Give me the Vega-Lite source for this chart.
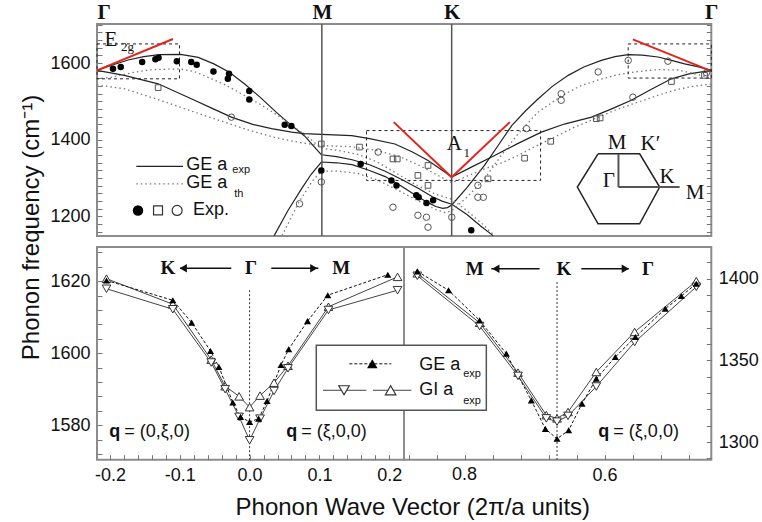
{
"$schema": "https://vega.github.io/schema/vega-lite/v6.json",
"padding": {"left": 18, "top": 0, "right": 4, "bottom": 2},
"background": "white",
"bounds": "flush",
"spacing": 11,
"config": {
  "view": {"stroke": "#8c8c8c", "strokeWidth": 2},
  "axis": {"labelFont": "Liberation Sans", "labelFontSize": 18, "labelColor": "#111", "tickColor": "#777", "tickWidth": 1, "domain": false, "grid": false, "labelOverlap": false, "titleFont": "Liberation Sans", "titleFontSize": 24, "titleFontWeight": "normal", "titleColor": "#111"},
  "text": {"color": "#111"}
},
"datasets": {
  "tc": [
    {"b":"A","t":"e","x":0,"y":1581},{"b":"A","t":"e","x":0.04,"y":1595},{"b":"A","t":"e","x":0.08,"y":1608},{"b":"A","t":"e","x":0.12,"y":1617},{"b":"A","t":"e","x":0.16,"y":1622},{"b":"A","t":"e","x":0.215,"y":1623},{"b":"A","t":"e","x":0.26,"y":1615},{"b":"A","t":"e","x":0.3,"y":1598},{"b":"A","t":"e","x":0.34,"y":1576},{"b":"A","t":"e","x":0.38,"y":1545},{"b":"A","t":"e","x":0.42,"y":1510},{"b":"A","t":"e","x":0.46,"y":1472},{"b":"A","t":"e","x":0.5,"y":1437},{"b":"A","t":"e","x":0.533,"y":1410},{"b":"A","t":"e","x":0.555,"y":1385},{"b":"A","t":"e","x":0.576,"y":1361},{"b":"A","t":"e","x":0.615,"y":1356},{"b":"A","t":"e","x":0.655,"y":1348},{"b":"A","t":"e","x":0.7,"y":1335},{"b":"A","t":"e","x":0.74,"y":1318},{"b":"A","t":"e","x":0.785,"y":1295},{"b":"A","t":"e","x":0.827,"y":1272},{"b":"A","t":"e","x":0.86,"y":1252},{"b":"A","t":"e","x":0.886,"y":1240},{"b":"A","t":"e","x":0.911,"y":1232},{"b":"A","t":"e","x":0.95,"y":1205},{"b":"A","t":"e","x":0.985,"y":1175},{"b":"A","t":"e","x":1.017,"y":1150},
    {"b":"B","t":"e","x":0.455,"y":1150},{"b":"B","t":"e","x":0.49,"y":1215},{"b":"B","t":"e","x":0.525,"y":1272},{"b":"B","t":"e","x":0.55,"y":1310},{"b":"B","t":"e","x":0.576,"y":1342},{"b":"B","t":"e","x":0.615,"y":1340},{"b":"B","t":"e","x":0.655,"y":1335},{"b":"B","t":"e","x":0.7,"y":1320},{"b":"B","t":"e","x":0.74,"y":1304},{"b":"B","t":"e","x":0.78,"y":1280},{"b":"B","t":"e","x":0.82,"y":1254},{"b":"B","t":"e","x":0.85,"y":1236},{"b":"B","t":"e","x":0.87,"y":1226},{"b":"B","t":"e","x":0.888,"y":1221},{"b":"B","t":"e","x":0.9,"y":1223},{"b":"B","t":"e","x":0.911,"y":1230},{"b":"B","t":"e","x":0.95,"y":1275},{"b":"B","t":"e","x":0.995,"y":1333},{"b":"B","t":"e","x":1.03,"y":1385},{"b":"B","t":"e","x":1.065,"y":1437},{"b":"B","t":"e","x":1.1,"y":1475},{"b":"B","t":"e","x":1.133,"y":1507},{"b":"B","t":"e","x":1.17,"y":1540},{"b":"B","t":"e","x":1.21,"y":1568},{"b":"B","t":"e","x":1.25,"y":1590},{"b":"B","t":"e","x":1.295,"y":1607},{"b":"B","t":"e","x":1.33,"y":1617},{"b":"B","t":"e","x":1.364,"y":1622},{"b":"B","t":"e","x":1.4,"y":1621},{"b":"B","t":"e","x":1.441,"y":1616},{"b":"B","t":"e","x":1.48,"y":1606},{"b":"B","t":"e","x":1.509,"y":1598},{"b":"B","t":"e","x":1.545,"y":1590},{"b":"B","t":"e","x":1.5774,"y":1581},
    {"b":"C","t":"e","x":0,"y":1581},{"b":"C","t":"e","x":0.07,"y":1568},{"b":"C","t":"e","x":0.157,"y":1546},{"b":"C","t":"e","x":0.242,"y":1507},{"b":"C","t":"e","x":0.3,"y":1480},{"b":"C","t":"e","x":0.345,"y":1459},{"b":"C","t":"e","x":0.4,"y":1440},{"b":"C","t":"e","x":0.448,"y":1429},{"b":"C","t":"e","x":0.5,"y":1420},{"b":"C","t":"e","x":0.533,"y":1416},{"b":"C","t":"e","x":0.576,"y":1414},{"b":"C","t":"e","x":0.654,"y":1411},{"b":"C","t":"e","x":0.7,"y":1403},{"b":"C","t":"e","x":0.765,"y":1389},{"b":"C","t":"e","x":0.81,"y":1368},{"b":"C","t":"e","x":0.85,"y":1346},{"b":"C","t":"e","x":0.88,"y":1325},{"b":"C","t":"e","x":0.911,"y":1303},{"b":"C","t":"e","x":0.96,"y":1328},{"b":"C","t":"e","x":1.021,"y":1359},{"b":"C","t":"e","x":1.08,"y":1390},{"b":"C","t":"e","x":1.141,"y":1420},{"b":"C","t":"e","x":1.2,"y":1441},{"b":"C","t":"e","x":1.27,"y":1459},{"b":"C","t":"e","x":1.32,"y":1480},{"b":"C","t":"e","x":1.372,"y":1503},{"b":"C","t":"e","x":1.42,"y":1530},{"b":"C","t":"e","x":1.475,"y":1559},{"b":"C","t":"e","x":1.52,"y":1572},{"b":"C","t":"e","x":1.5774,"y":1581},
    {"b":"D","t":"t","x":0,"y":1559},{"b":"D","t":"t","x":0.037,"y":1563},{"b":"D","t":"t","x":0.09,"y":1575},{"b":"D","t":"t","x":0.139,"y":1583},{"b":"D","t":"t","x":0.212,"y":1585},{"b":"D","t":"t","x":0.25,"y":1578},{"b":"D","t":"t","x":0.285,"y":1563},{"b":"D","t":"t","x":0.33,"y":1543},{"b":"D","t":"t","x":0.371,"y":1520},{"b":"D","t":"t","x":0.42,"y":1492},{"b":"D","t":"t","x":0.465,"y":1463},{"b":"D","t":"t","x":0.5,"y":1438},{"b":"D","t":"t","x":0.542,"y":1407},{"b":"D","t":"t","x":0.576,"y":1378},{"b":"D","t":"t","x":0.62,"y":1372},{"b":"D","t":"t","x":0.67,"y":1362},{"b":"D","t":"t","x":0.72,"y":1342},{"b":"D","t":"t","x":0.77,"y":1312},{"b":"D","t":"t","x":0.82,"y":1282},{"b":"D","t":"t","x":0.87,"y":1258},{"b":"D","t":"t","x":0.911,"y":1245},{"b":"D","t":"t","x":0.95,"y":1215},{"b":"D","t":"t","x":0.99,"y":1180},{"b":"D","t":"t","x":1.02,"y":1150},
    {"b":"E","t":"t","x":0.475,"y":1150},{"b":"E","t":"t","x":0.52,"y":1240},{"b":"E","t":"t","x":0.555,"y":1295},{"b":"E","t":"t","x":0.576,"y":1318},{"b":"E","t":"t","x":0.62,"y":1318},{"b":"E","t":"t","x":0.67,"y":1312},{"b":"E","t":"t","x":0.72,"y":1295},{"b":"E","t":"t","x":0.77,"y":1270},{"b":"E","t":"t","x":0.82,"y":1243},{"b":"E","t":"t","x":0.87,"y":1218},{"b":"E","t":"t","x":0.895,"y":1210},{"b":"E","t":"t","x":0.911,"y":1215},{"b":"E","t":"t","x":0.95,"y":1250},{"b":"E","t":"t","x":0.995,"y":1298},{"b":"E","t":"t","x":1.04,"y":1362},{"b":"E","t":"t","x":1.081,"y":1415},{"b":"E","t":"t","x":1.13,"y":1470},{"b":"E","t":"t","x":1.192,"y":1514},{"b":"E","t":"t","x":1.24,"y":1540},{"b":"E","t":"t","x":1.287,"y":1556},{"b":"E","t":"t","x":1.33,"y":1568},{"b":"E","t":"t","x":1.381,"y":1577},{"b":"E","t":"t","x":1.44,"y":1583},{"b":"E","t":"t","x":1.492,"y":1582},{"b":"E","t":"t","x":1.535,"y":1572},{"b":"E","t":"t","x":1.5774,"y":1561},
    {"b":"F","t":"t","x":0,"y":1543},{"b":"F","t":"t","x":0.071,"y":1533},{"b":"F","t":"t","x":0.135,"y":1512},{"b":"F","t":"t","x":0.2,"y":1490},{"b":"F","t":"t","x":0.265,"y":1467},{"b":"F","t":"t","x":0.328,"y":1446},{"b":"F","t":"t","x":0.39,"y":1425},{"b":"F","t":"t","x":0.456,"y":1406},{"b":"F","t":"t","x":0.52,"y":1393},{"b":"F","t":"t","x":0.576,"y":1385},{"b":"F","t":"t","x":0.65,"y":1382},{"b":"F","t":"t","x":0.72,"y":1372},{"b":"F","t":"t","x":0.78,"y":1355},{"b":"F","t":"t","x":0.83,"y":1332},{"b":"F","t":"t","x":0.87,"y":1310},{"b":"F","t":"t","x":0.911,"y":1288},{"b":"F","t":"t","x":0.95,"y":1305},{"b":"F","t":"t","x":0.995,"y":1324},{"b":"F","t":"t","x":1.04,"y":1340},{"b":"F","t":"t","x":1.081,"y":1359},{"b":"F","t":"t","x":1.12,"y":1380},{"b":"F","t":"t","x":1.167,"y":1403},{"b":"F","t":"t","x":1.22,"y":1430},{"b":"F","t":"t","x":1.278,"y":1455},{"b":"F","t":"t","x":1.33,"y":1477},{"b":"F","t":"t","x":1.389,"y":1498},{"b":"F","t":"t","x":1.44,"y":1516},{"b":"F","t":"t","x":1.492,"y":1532},{"b":"F","t":"t","x":1.535,"y":1540},{"b":"F","t":"t","x":1.5774,"y":1545}
  ],
  "tp": [
    {"s":"f","x":0.041,"y":1585},{"s":"f","x":0.061,"y":1590},{"s":"f","x":0.116,"y":1603},{"s":"f","x":0.15,"y":1610},{"s":"f","x":0.158,"y":1614},{"s":"f","x":0.205,"y":1605},{"s":"f","x":0.242,"y":1603},{"s":"f","x":0.256,"y":1596},{"s":"f","x":0.299,"y":1578},{"s":"f","x":0.339,"y":1572},{"s":"f","x":0.336,"y":1559},{"s":"f","x":0.391,"y":1527},{"s":"f","x":0.391,"y":1505},{"s":"f","x":0.482,"y":1439},{"s":"f","x":0.499,"y":1436},{"s":"f","x":0.576,"y":1320},{"s":"f","x":0.677,"y":1337},{"s":"f","x":0.756,"y":1294},{"s":"f","x":0.769,"y":1281},{"s":"f","x":0.82,"y":1255},{"s":"f","x":0.826,"y":1250},{"s":"f","x":0.846,"y":1235},{"s":"f","x":0.863,"y":1242},{"s":"f","x":0.961,"y":1164},
    {"s":"sq","x":0.157,"y":1536},{"s":"sq","x":0.576,"y":1389},{"s":"sq","x":0.674,"y":1381},{"s":"sq","x":0.76,"y":1350},{"s":"sq","x":0.771,"y":1350},{"s":"sq","x":0.85,"y":1333},{"s":"sq","x":0.824,"y":1307},{"s":"sq","x":0.85,"y":1281},{"s":"sq","x":1.004,"y":1298},{"s":"sq","x":1.098,"y":1352},{"s":"sq","x":1.165,"y":1396},{"s":"sq","x":1.282,"y":1455},{"s":"sq","x":1.292,"y":1457},{"s":"sq","x":1.475,"y":1552},{"s":"sq","x":1.56,"y":1568},
    {"s":"c","x":0.345,"y":1459},{"s":"c","x":0.52,"y":1233},{"s":"c","x":0.576,"y":1290},{"s":"c","x":0.722,"y":1368},{"s":"c","x":0.76,"y":1224},{"s":"c","x":0.824,"y":1203},{"s":"c","x":0.846,"y":1198},{"s":"c","x":0.85,"y":1172},{"s":"c","x":0.911,"y":1198},{"s":"c","x":0.978,"y":1281},{"s":"c","x":0.978,"y":1250},{"s":"c","x":0.992,"y":1250},{"s":"c","x":1.103,"y":1429},{"s":"c","x":1.192,"y":1520},{"s":"c","x":1.192,"y":1503},{"s":"c","x":1.287,"y":1577},{"s":"c","x":1.364,"y":1607},{"s":"c","x":1.376,"y":1511},{"s":"c","x":1.466,"y":1605},{"s":"c","x":1.565,"y":1575}
  ],
  "hex": [
    {"i":0,"x":1.2866,"y":1363.4},{"i":1,"x":1.3934,"y":1363.4},{"i":2,"x":1.4448,"y":1276.5},{"i":3,"x":1.3934,"y":1180.7},{"i":4,"x":1.2866,"y":1180.7},{"i":5,"x":1.2334,"y":1276.5},{"i":6,"x":1.2866,"y":1363.4}
  ],
  "bl": [
    {"s":"GE","x":-0.205,"y":1620.2},{"s":"GE","x":-0.11,"y":1614.7},{"s":"GE","x":-0.083,"y":1608.5},{"s":"GE","x":-0.056,"y":1600.6},{"s":"GE","x":-0.044,"y":1596.2},{"s":"GE","x":-0.024,"y":1586.3},{"s":"GE","x":-0.013,"y":1582.3},{"s":"GE","x":0,"y":1580.9},{"s":"GE","x":0.013,"y":1581.8},{"s":"GE","x":0.025,"y":1586.7},{"s":"GE","x":0.045,"y":1596.7},{"s":"GE","x":0.056,"y":1601.1},{"s":"GE","x":0.083,"y":1608.9},{"s":"GE","x":0.112,"y":1616.1},{"s":"GE","x":0.198,"y":1621.8},
    {"s":"GIu","x":-0.205,"y":1620.7},{"s":"GIu","x":-0.11,"y":1613.6},{"s":"GIu","x":-0.055,"y":1598.2},{"s":"GIu","x":-0.035,"y":1590.8},{"s":"GIu","x":-0.015,"y":1588},{"s":"GIu","x":0,"y":1585},{"s":"GIu","x":0.015,"y":1588.2},{"s":"GIu","x":0.035,"y":1591.8},{"s":"GIu","x":0.055,"y":1596.5},{"s":"GIu","x":0.113,"y":1612.9},{"s":"GIu","x":0.212,"y":1621.2},
    {"s":"GId","x":-0.205,"y":1617.9},{"s":"GId","x":-0.11,"y":1612.2},{"s":"GId","x":-0.055,"y":1597.4},{"s":"GId","x":-0.035,"y":1590},{"s":"GId","x":-0.015,"y":1582.3},{"s":"GId","x":0,"y":1575.8},{"s":"GId","x":0.015,"y":1581.8},{"s":"GId","x":0.035,"y":1589.5},{"s":"GId","x":0.055,"y":1595.8},{"s":"GId","x":0.113,"y":1612},{"s":"GId","x":0.212,"y":1617.5}
  ],
  "br": [
    {"s":"GE","x":0.8676,"y":1404.5},{"s":"GE","x":0.8229,"y":1392.9},{"s":"GE","x":0.7786,"y":1374.5},{"s":"GE","x":0.7404,"y":1354.1},{"s":"GE","x":0.7047,"y":1325.5},{"s":"GE","x":0.6847,"y":1308.1},{"s":"GE","x":0.668,"y":1302},{"s":"GE","x":0.6514,"y":1307.2},{"s":"GE","x":0.6323,"y":1323.5},{"s":"GE","x":0.6119,"y":1338.8},{"s":"GE","x":0.5847,"y":1352.1},{"s":"GE","x":0.5561,"y":1364.3},{"s":"GE","x":0.5133,"y":1381.6},{"s":"GE","x":0.4904,"y":1389.4},{"s":"GE","x":0.469,"y":1396.9},
    {"s":"GIu","x":0.8676,"y":1403.3},{"s":"GIu","x":0.7786,"y":1373},{"s":"GIu","x":0.7237,"y":1342.5},{"s":"GIu","x":0.6833,"y":1316.5},{"s":"GIu","x":0.668,"y":1314.5},{"s":"GIu","x":0.6523,"y":1318.4},{"s":"GIu","x":0.6119,"y":1342.9},{"s":"GIu","x":0.5571,"y":1367.4},{"s":"GIu","x":0.469,"y":1398.5},
    {"s":"GId","x":0.8676,"y":1401.8},{"s":"GId","x":0.7786,"y":1371},{"s":"GId","x":0.7237,"y":1340.5},{"s":"GId","x":0.6833,"y":1314.5},{"s":"GId","x":0.668,"y":1312.5},{"s":"GId","x":0.6523,"y":1316},{"s":"GId","x":0.6119,"y":1334},{"s":"GId","x":0.5571,"y":1361.2},{"s":"GId","x":0.469,"y":1395}
  ]
},
"vconcat": [
  {
    "width": 614.3,
    "height": 212,
    "resolve": {"axis": {"y": "independent"}},
    "layer": [
      {
        "data": {"name": "tc"},
        "transform": [{"filter": "datum.t === 'e'"}],
        "mark": {"type": "line", "stroke": "#222", "strokeWidth": 1.2},
        "encoding": {
          "x": {"field": "x", "type": "quantitative", "scale": {"domain": [0, 1.5774], "nice": false, "zero": false},
                "axis": {"orient": "top", "values": [0, 0.5774, 0.9107, 1.5774], "labelExpr": "datum.value < 0.3 || datum.value > 1.5 ? 'Γ' : (datum.value < 0.7 ? 'M' : 'K')", "labelAlign": {"condition": {"test": "datum.value < 0.1", "value": "left"}, "value": "center"}, "ticks": false, "domain": false, "labelFont": "Liberation Serif", "labelFontWeight": "bold", "labelFontSize": 21, "labelPadding": 2, "labelOverlap": false, "labelFlush": false, "labelBound": false, "title": null}},
          "y": {"field": "y", "type": "quantitative", "scale": {"domain": [1149, 1702], "nice": false, "zero": false},
                "axis": {"orient": "left", "values": [1160,1180,1200,1220,1240,1260,1280,1300,1320,1340,1360,1380,1400,1420,1440,1460,1480,1500,1520,1540,1560,1580,1600,1620,1640,1660,1680,1700], "format": "d", "labelExpr": "datum.value % 200 === 0 ? datum.label : ''", "tickSize": 5, "offset": -5, "labelPadding": 7, "labelOverlap": false, "title": "Phonon frequency (cm⁻¹)", "titleX": -70.7, "titleY": 203, "titleAngle": -90, "titleAlign": "center", "titleBaseline": "middle"}},
          "detail": {"field": "b"}
        }
      },
      {
        "data": {"name": "tc"},
        "transform": [{"filter": "datum.t === 't'"}],
        "mark": {"type": "line", "stroke": "#7a7a7a", "strokeWidth": 1.3, "strokeDash": [1.5, 3]},
        "encoding": {
          "x": {"field": "x", "type": "quantitative"},
          "y": {"field": "y", "type": "quantitative", "axis": {"orient": "right", "values": [1160,1180,1200,1220,1240,1260,1280,1300,1320,1340,1360,1380,1400,1420,1440,1460,1480,1500,1520,1540,1560,1580,1600,1620,1640,1660,1680,1700], "labels": false, "tickSize": 5, "offset": -5, "title": null}},
          "detail": {"field": "b"}
        }
      },
      {
        "data": {"values": [{"x": 0.5774}, {"x": 0.9107}]},
        "mark": {"type": "rule", "stroke": "#555", "strokeWidth": 1.5},
        "encoding": {"x": {"field": "x", "type": "quantitative"}}
      },
      {
        "data": {"values": [{"x": 0, "x2": 0.212, "y": 1559, "y2": 1650}, {"x": 0.692, "x2": 1.139, "y": 1294, "y2": 1424}, {"x": 1.364, "x2": 1.5774, "y": 1561, "y2": 1650}]},
        "mark": {"type": "rect", "fill": "transparent", "stroke": "#222", "strokeWidth": 1, "strokeDash": [3, 3]},
        "encoding": {"x": {"field": "x", "type": "quantitative"}, "x2": {"field": "x2"}, "y": {"field": "y", "type": "quantitative", "axis": null}, "y2": {"field": "y2"}}
      },
      {
        "data": {"name": "tp"},
        "transform": [{"filter": "datum.s === 'sq'"}],
        "mark": {"type": "point", "shape": "square", "filled": false, "stroke": "#555", "strokeWidth": 1, "size": 32, "opacity": 1},
        "encoding": {"x": {"field": "x", "type": "quantitative"}, "y": {"field": "y", "type": "quantitative", "axis": null}}
      },
      {
        "data": {"name": "tp"},
        "transform": [{"filter": "datum.s === 'c'"}],
        "mark": {"type": "point", "shape": "circle", "filled": false, "stroke": "#555", "strokeWidth": 1, "size": 42, "opacity": 1},
        "encoding": {"x": {"field": "x", "type": "quantitative"}, "y": {"field": "y", "type": "quantitative", "axis": null}}
      },
      {
        "data": {"name": "tp"},
        "transform": [{"filter": "datum.s === 'f'"}],
        "mark": {"type": "point", "shape": "circle", "filled": true, "fill": "#000", "size": 42, "opacity": 1},
        "encoding": {"x": {"field": "x", "type": "quantitative"}, "y": {"field": "y", "type": "quantitative", "axis": null}}
      },
      {
        "data": {"values": [{"x": 0, "y": 1581, "x2": 0.195, "y2": 1663}, {"x": 0.762, "y": 1446, "x2": 0.9107, "y2": 1302}, {"x": 0.9107, "y": 1302, "x2": 1.06, "y2": 1446}, {"x": 1.376, "y": 1662, "x2": 1.573, "y2": 1581}]},
        "mark": {"type": "rule", "stroke": "#e3241d", "strokeWidth": 2},
        "encoding": {"x": {"field": "x", "type": "quantitative"}, "x2": {"field": "x2"}, "y": {"field": "y", "type": "quantitative", "axis": null}, "y2": {"field": "y2"}}
      },
      {
        "data": {"name": "hex"},
        "mark": {"type": "line", "stroke": "#222", "strokeWidth": 1.5},
        "encoding": {"x": {"field": "x", "type": "quantitative"}, "y": {"field": "y", "type": "quantitative", "axis": null}, "order": {"field": "i", "type": "quantitative"}}
      },
      {
        "data": {"values": [{"x": 1.339, "x2": 1.339, "y": 1276.5, "y2": 1363.4}, {"x": 1.339, "x2": 1.496, "y": 1276.5, "y2": 1276.5}]},
        "mark": {"type": "rule", "stroke": "#555", "strokeWidth": 2},
        "encoding": {"x": {"field": "x", "type": "quantitative"}, "x2": {"field": "x2"}, "y": {"field": "y", "type": "quantitative", "axis": null}, "y2": {"field": "y2"}}
      },
      {
        "data": {"values": [{"t": "E", "x": 0.0354, "y": 1660}, {"t": "A", "x": 0.9176, "y": 1390}, {"t": "M", "x": 1.3357, "y": 1392}, {"t": "K′", "x": 1.421, "y": 1389.5}, {"t": "Γ", "x": 1.3143, "y": 1292}, {"t": "K", "x": 1.464, "y": 1302.6}, {"t": "M", "x": 1.536, "y": 1262}]},
        "mark": {"type": "text", "font": "Liberation Serif", "fontSize": 21, "align": "center", "baseline": "middle"},
        "encoding": {"x": {"field": "x", "type": "quantitative"}, "y": {"field": "y", "type": "quantitative", "axis": null}, "text": {"field": "t"}}
      },
      {
        "data": {"values": [{"t": "2g", "x": 0.078, "y": 1641.7}, {"t": "1", "x": 0.9497, "y": 1365}]},
        "mark": {"type": "text", "font": "Liberation Serif", "fontSize": 13, "align": "center", "baseline": "middle"},
        "encoding": {"x": {"field": "x", "type": "quantitative"}, "y": {"field": "y", "type": "quantitative", "axis": null}, "text": {"field": "t"}}
      },
      {
        "data": {"values": [{"x": 0.1009, "x2": 0.2208, "y": 1330.5}]},
        "mark": {"type": "rule", "stroke": "#222", "strokeWidth": 1.2},
        "encoding": {"x": {"field": "x", "type": "quantitative"}, "x2": {"field": "x2"}, "y": {"field": "y", "type": "quantitative", "axis": null}}
      },
      {
        "data": {"values": [{"x": 0.1009, "x2": 0.2208, "y": 1285.1}]},
        "mark": {"type": "rule", "stroke": "#7a7a7a", "strokeWidth": 1.3, "strokeDash": [1.5, 3]},
        "encoding": {"x": {"field": "x", "type": "quantitative"}, "x2": {"field": "x2"}, "y": {"field": "y", "type": "quantitative", "axis": null}}
      },
      {
        "data": {"values": [{"x": 0.1053, "y": 1215.7}]},
        "mark": {"type": "point", "shape": "circle", "filled": true, "fill": "#000", "size": 110, "opacity": 1},
        "encoding": {"x": {"field": "x", "type": "quantitative"}, "y": {"field": "y", "type": "quantitative", "axis": null}}
      },
      {
        "data": {"values": [{"x": 0.1567, "y": 1215.7}]},
        "mark": {"type": "point", "shape": "square", "filled": false, "stroke": "#333", "strokeWidth": 1.2, "size": 80, "opacity": 1},
        "encoding": {"x": {"field": "x", "type": "quantitative"}, "y": {"field": "y", "type": "quantitative", "axis": null}}
      },
      {
        "data": {"values": [{"x": 0.2057, "y": 1215.7}]},
        "mark": {"type": "point", "shape": "circle", "filled": false, "stroke": "#333", "strokeWidth": 1.2, "size": 100, "opacity": 1},
        "encoding": {"x": {"field": "x", "type": "quantitative"}, "y": {"field": "y", "type": "quantitative", "axis": null}}
      },
      {
        "data": {"values": [{"t": "GE a", "x": 0.2293, "y": 1335.2}, {"t": "GE a", "x": 0.2293, "y": 1287.5}, {"t": "Exp.", "x": 0.2465, "y": 1215.7}]},
        "mark": {"type": "text", "font": "Liberation Sans", "fontSize": 18, "align": "left", "baseline": "middle"},
        "encoding": {"x": {"field": "x", "type": "quantitative"}, "y": {"field": "y", "type": "quantitative", "axis": null}, "text": {"field": "t"}}
      },
      {
        "data": {"values": [{"t": "exp", "x": 0.3475, "y": 1322.2}, {"t": "th", "x": 0.3526, "y": 1259}]},
        "mark": {"type": "text", "font": "Liberation Sans", "fontSize": 11, "align": "left", "baseline": "middle"},
        "encoding": {"x": {"field": "x", "type": "quantitative"}, "y": {"field": "y", "type": "quantitative", "axis": null}, "text": {"field": "t"}}
      }
    ]
  },
  {
    "hconcat": [
      {
        "width": 307,
        "height": 212.7,
        "resolve": {"axis": {"x": "independent", "y": "independent"}},
        "layer": [
          {
            "data": {"values": [{"x": 0, "y": 1617.5, "y2": 1570.4}]},
            "mark": {"type": "rule", "stroke": "#333", "strokeWidth": 1, "strokeDash": [2, 2]},
            "encoding": {
              "x": {"field": "x", "type": "quantitative", "scale": {"domain": [-0.2186, 0.2212], "nice": false, "zero": false},
                    "axis": {"orient": "bottom", "values": [-0.2,-0.18,-0.16,-0.14,-0.12,-0.1,-0.08,-0.06,-0.04,-0.02,0,0.02,0.04,0.06,0.08,0.1,0.12,0.14,0.16,0.18,0.2], "labelExpr": "abs(datum.value*10 - round(datum.value*10)) < 0.001 ? replace(format(datum.value, '.1f'), '\u2212', '-') : ''", "tickSize": 5, "offset": -5, "labelPadding": 7, "labelOverlap": false, "labelFlush": false, "title": "Phonon Wave Vector (2π/a units)", "titleX": 315.3, "titleY": 60, "titleAlign": "center", "titleBaseline": "alphabetic", "titleAngle": 0}},
              "y": {"field": "y", "type": "quantitative", "scale": {"domain": [1570.4, 1629.5], "nice": false, "zero": false},
                    "axis": {"orient": "left", "values": [1572,1576,1580,1584,1588,1592,1596,1600,1604,1608,1612,1616,1620,1624,1628], "format": "d", "labelExpr": "datum.value % 20 === 0 ? datum.label : ''", "tickSize": 5, "offset": -5, "labelPadding": 7, "labelOverlap": false, "title": null}},
              "y2": {"field": "y2"}
            }
          },
          {
            "data": {"values": [{"t": "0.8", "x": 0.308, "y": 1566.2}]},
            "mark": {"type": "text", "font": "Liberation Sans", "fontSize": 18, "align": "center", "baseline": "middle"},
            "encoding": {"x": {"field": "x", "type": "quantitative", "axis": null}, "y": {"field": "y", "type": "quantitative", "axis": null}, "text": {"field": "t"}}
          },
          {
            "data": {"name": "bl"},
            "transform": [{"filter": "datum.s !== 'GE'"}],
            "mark": {"type": "line", "stroke": "#444", "strokeWidth": 1},
            "encoding": {"x": {"field": "x", "type": "quantitative", "axis": null}, "y": {"field": "y", "type": "quantitative", "axis": null}, "detail": {"field": "s"}}
          },
          {
            "data": {"name": "bl"},
            "transform": [{"filter": "datum.s === 'GE'"}],
            "mark": {"type": "line", "stroke": "#111", "strokeWidth": 1, "strokeDash": [3, 2]},
            "encoding": {"x": {"field": "x", "type": "quantitative", "axis": null}, "y": {"field": "y", "type": "quantitative", "axis": null}}
          },
          {
            "data": {"name": "bl"},
            "transform": [{"filter": "datum.s === 'GIu'"}],
            "mark": {"type": "point", "shape": "triangle-up", "fill": "white", "stroke": "#333", "strokeWidth": 1, "size": 75, "opacity": 1},
            "encoding": {"x": {"field": "x", "type": "quantitative", "axis": null}, "y": {"field": "y", "type": "quantitative", "axis": null}}
          },
          {
            "data": {"name": "bl"},
            "transform": [{"filter": "datum.s === 'GId'"}],
            "mark": {"type": "point", "shape": "triangle-down", "fill": "white", "stroke": "#333", "strokeWidth": 1, "size": 75, "opacity": 1},
            "encoding": {"x": {"field": "x", "type": "quantitative", "axis": null}, "y": {"field": "y", "type": "quantitative", "axis": null}}
          },
          {
            "data": {"name": "bl"},
            "transform": [{"filter": "datum.s === 'GE'"}],
            "mark": {"type": "point", "shape": "triangle-up", "filled": true, "fill": "#000", "size": 50, "opacity": 1},
            "encoding": {"x": {"field": "x", "type": "quantitative", "axis": null}, "y": {"field": "y", "type": "quantitative", "axis": null}}
          },
          {
            "data": {"values": [{"t": "K", "x": -0.1169, "y": 1623.6}, {"t": "Γ", "x": 0.002, "y": 1623.6}, {"t": "M", "x": 0.1314, "y": 1623.6}]},
            "mark": {"type": "text", "font": "Liberation Serif", "fontWeight": "bold", "fontSize": 19, "align": "center", "baseline": "middle"},
            "encoding": {"x": {"field": "x", "type": "quantitative", "axis": null}, "y": {"field": "y", "type": "quantitative", "axis": null}, "text": {"field": "t"}}
          },
          {
            "data": {"values": [{"x": -0.0995, "x2": -0.0262, "y": 1623.6}, {"x": 0.0311, "x2": 0.0985, "y": 1623.6}]},
            "mark": {"type": "rule", "stroke": "#111", "strokeWidth": 1.5},
            "encoding": {"x": {"field": "x", "type": "quantitative", "axis": null}, "x2": {"field": "x2"}, "y": {"field": "y", "type": "quantitative", "axis": null}}
          },
          {
            "data": {"values": [{"x": -0.095, "y": 1623.6}]},
            "mark": {"type": "point", "shape": "triangle-left", "filled": true, "fill": "#111", "size": 70, "opacity": 1},
            "encoding": {"x": {"field": "x", "type": "quantitative", "axis": null}, "y": {"field": "y", "type": "quantitative", "axis": null}}
          },
          {
            "data": {"values": [{"x": 0.092, "y": 1623.6}]},
            "mark": {"type": "point", "shape": "triangle-right", "filled": true, "fill": "#111", "size": 70, "opacity": 1},
            "encoding": {"x": {"field": "x", "type": "quantitative", "axis": null}, "y": {"field": "y", "type": "quantitative", "axis": null}}
          },
          {
            "data": {"values": [{"t": "q", "x": -0.201, "y": 1578.1}, {"t": "q", "x": 0.0526, "y": 1578.1}]},
            "mark": {"type": "text", "font": "Liberation Sans", "fontWeight": "bold", "fontSize": 18, "align": "left", "baseline": "middle"},
            "encoding": {"x": {"field": "x", "type": "quantitative", "axis": null}, "y": {"field": "y", "type": "quantitative", "axis": null}, "text": {"field": "t"}}
          },
          {
            "data": {"values": [{"t": "= (0,ξ,0)", "x": -0.1795, "y": 1578.1}, {"t": "= (ξ,0,0)", "x": 0.074, "y": 1578.1}]},
            "mark": {"type": "text", "font": "Liberation Sans", "fontSize": 18, "align": "left", "baseline": "middle"},
            "encoding": {"x": {"field": "x", "type": "quantitative", "axis": null}, "y": {"field": "y", "type": "quantitative", "axis": null}, "text": {"field": "t"}}
          }
        ]
      },
      {
        "width": 307.3,
        "height": 212.7,
        "resolve": {"axis": {"x": "independent", "y": "independent"}},
        "layer": [
          {
            "data": {"values": [{"x": 0.668, "y": 1398, "y2": 1289.2}]},
            "mark": {"type": "rule", "stroke": "#333", "strokeWidth": 1, "strokeDash": [2, 2]},
            "encoding": {
              "x": {"field": "x", "type": "quantitative", "scale": {"domain": [0.4476, 0.8866], "reverse": true, "nice": false, "zero": false},
                    "axis": {"orient": "bottom", "values": [0.48,0.52,0.56,0.6,0.64,0.68,0.72,0.76,0.8,0.84,0.88], "labelExpr": "abs(datum.value - 0.6) < 0.001 ? '0.6' : ''", "tickSize": 5, "offset": -5, "labelPadding": 7, "labelOverlap": false, "labelFlush": false, "title": null}},
              "y": {"field": "y", "type": "quantitative", "scale": {"domain": [1289.2, 1419.4], "nice": false, "zero": false},
                    "axis": {"orient": "right", "values": [1290,1300,1310,1320,1330,1340,1350,1360,1370,1380,1390,1400,1410], "format": "d", "labelExpr": "datum.value % 50 === 0 ? datum.label : ''", "tickSize": 5, "offset": -5, "labelPadding": 7, "labelOverlap": false, "title": null}},
              "y2": {"field": "y2"}
            }
          },
          {
            "data": {"name": "br"},
            "transform": [{"filter": "datum.s !== 'GE'"}],
            "mark": {"type": "line", "stroke": "#444", "strokeWidth": 1},
            "encoding": {"x": {"field": "x", "type": "quantitative", "axis": null}, "y": {"field": "y", "type": "quantitative", "axis": null}, "detail": {"field": "s"}}
          },
          {
            "data": {"name": "br"},
            "transform": [{"filter": "datum.s === 'GE'"}],
            "mark": {"type": "line", "stroke": "#111", "strokeWidth": 1, "strokeDash": [3, 2]},
            "encoding": {"x": {"field": "x", "type": "quantitative", "axis": null}, "y": {"field": "y", "type": "quantitative", "axis": null}}
          },
          {
            "data": {"name": "br"},
            "transform": [{"filter": "datum.s === 'GIu'"}],
            "mark": {"type": "point", "shape": "triangle-up", "fill": "white", "stroke": "#333", "strokeWidth": 1, "size": 75, "opacity": 1},
            "encoding": {"x": {"field": "x", "type": "quantitative", "axis": null}, "y": {"field": "y", "type": "quantitative", "axis": null}}
          },
          {
            "data": {"name": "br"},
            "transform": [{"filter": "datum.s === 'GId'"}],
            "mark": {"type": "point", "shape": "triangle-down", "fill": "white", "stroke": "#333", "strokeWidth": 1, "size": 75, "opacity": 1},
            "encoding": {"x": {"field": "x", "type": "quantitative", "axis": null}, "y": {"field": "y", "type": "quantitative", "axis": null}}
          },
          {
            "data": {"name": "br"},
            "transform": [{"filter": "datum.s === 'GE'"}],
            "mark": {"type": "point", "shape": "triangle-up", "filled": true, "fill": "#000", "size": 50, "opacity": 1},
            "encoding": {"x": {"field": "x", "type": "quantitative", "axis": null}, "y": {"field": "y", "type": "quantitative", "axis": null}}
          },
          {
            "data": {"values": [{"t": "M", "x": 0.7857, "y": 1406.1}, {"t": "K", "x": 0.6583, "y": 1406.1}, {"t": "Γ", "x": 0.538, "y": 1406.1}]},
            "mark": {"type": "text", "font": "Liberation Serif", "fontWeight": "bold", "fontSize": 19, "align": "center", "baseline": "middle"},
            "encoding": {"x": {"field": "x", "type": "quantitative", "axis": null}, "y": {"field": "y", "type": "quantitative", "axis": null}, "text": {"field": "t"}}
          },
          {
            "data": {"values": [{"x": 0.7619, "x2": 0.6929, "y": 1406.1}, {"x": 0.6333, "x2": 0.5655, "y": 1406.1}]},
            "mark": {"type": "rule", "stroke": "#111", "strokeWidth": 1.5},
            "encoding": {"x": {"field": "x", "type": "quantitative", "axis": null}, "x2": {"field": "x2"}, "y": {"field": "y", "type": "quantitative", "axis": null}}
          },
          {
            "data": {"values": [{"x": 0.7554, "y": 1406.1}]},
            "mark": {"type": "point", "shape": "triangle-left", "filled": true, "fill": "#111", "size": 70, "opacity": 1},
            "encoding": {"x": {"field": "x", "type": "quantitative", "axis": null}, "y": {"field": "y", "type": "quantitative", "axis": null}}
          },
          {
            "data": {"values": [{"x": 0.5704, "y": 1406.1}]},
            "mark": {"type": "point", "shape": "triangle-right", "filled": true, "fill": "#111", "size": 70, "opacity": 1},
            "encoding": {"x": {"field": "x", "type": "quantitative", "axis": null}, "y": {"field": "y", "type": "quantitative", "axis": null}}
          },
          {
            "data": {"values": [{"t": "q", "x": 0.609, "y": 1306.1}]},
            "mark": {"type": "text", "font": "Liberation Sans", "fontWeight": "bold", "fontSize": 18, "align": "left", "baseline": "middle"},
            "encoding": {"x": {"field": "x", "type": "quantitative", "axis": null}, "y": {"field": "y", "type": "quantitative", "axis": null}, "text": {"field": "t"}}
          },
          {
            "data": {"values": [{"t": "= (ξ,0,0)", "x": 0.5876, "y": 1306.1}]},
            "mark": {"type": "text", "font": "Liberation Sans", "fontSize": 18, "align": "left", "baseline": "middle"},
            "encoding": {"x": {"field": "x", "type": "quantitative", "axis": null}, "y": {"field": "y", "type": "quantitative", "axis": null}, "text": {"field": "t"}}
          },
          {
            "data": {"values": [{"x": 1.0119, "x2": 0.769, "y": 1359.2, "y2": 1319.4}]},
            "mark": {"type": "rect", "fill": "white", "stroke": "#555", "strokeWidth": 1.5},
            "encoding": {"x": {"field": "x", "type": "quantitative", "axis": null}, "x2": {"field": "x2"}, "y": {"field": "y", "type": "quantitative", "axis": null}, "y2": {"field": "y2"}}
          },
          {
            "data": {"values": [{"x": 0.9647, "x2": 0.9047, "y": 1347.9}]},
            "mark": {"type": "rule", "stroke": "#111", "strokeWidth": 1, "strokeDash": [3, 2]},
            "encoding": {"x": {"field": "x", "type": "quantitative", "axis": null}, "x2": {"field": "x2"}, "y": {"field": "y", "type": "quantitative", "axis": null}}
          },
          {
            "data": {"values": [{"x": 1.0023, "x2": 0.9404, "y": 1331.7}, {"x": 0.9309, "x2": 0.8761, "y": 1331.7}]},
            "mark": {"type": "rule", "stroke": "#444", "strokeWidth": 1},
            "encoding": {"x": {"field": "x", "type": "quantitative", "axis": null}, "x2": {"field": "x2"}, "y": {"field": "y", "type": "quantitative", "axis": null}}
          },
          {
            "data": {"values": [{"x": 0.9319, "y": 1347.9}]},
            "mark": {"type": "point", "shape": "triangle-up", "filled": true, "fill": "#000", "size": 110, "opacity": 1},
            "encoding": {"x": {"field": "x", "type": "quantitative", "axis": null}, "y": {"field": "y", "type": "quantitative", "axis": null}}
          },
          {
            "data": {"values": [{"x": 0.9723, "y": 1331.7}]},
            "mark": {"type": "point", "shape": "triangle-down", "fill": "white", "stroke": "#333", "strokeWidth": 1.2, "size": 110, "opacity": 1},
            "encoding": {"x": {"field": "x", "type": "quantitative", "axis": null}, "y": {"field": "y", "type": "quantitative", "axis": null}}
          },
          {
            "data": {"values": [{"x": 0.9057, "y": 1331.7}]},
            "mark": {"type": "point", "shape": "triangle-up", "fill": "white", "stroke": "#333", "strokeWidth": 1.2, "size": 110, "opacity": 1},
            "encoding": {"x": {"field": "x", "type": "quantitative", "axis": null}, "y": {"field": "y", "type": "quantitative", "axis": null}}
          },
          {
            "data": {"values": [{"t": "GE a", "x": 0.8647, "y": 1347.3}, {"t": "GI a", "x": 0.8647, "y": 1331.7}]},
            "mark": {"type": "text", "font": "Liberation Sans", "fontSize": 18, "align": "left", "baseline": "middle"},
            "encoding": {"x": {"field": "x", "type": "quantitative", "axis": null}, "y": {"field": "y", "type": "quantitative", "axis": null}, "text": {"field": "t"}}
          },
          {
            "data": {"values": [{"t": "exp", "x": 0.802, "y": 1341.8}, {"t": "exp", "x": 0.802, "y": 1325.1}]},
            "mark": {"type": "text", "font": "Liberation Sans", "fontSize": 11, "align": "left", "baseline": "middle"},
            "encoding": {"x": {"field": "x", "type": "quantitative", "axis": null}, "y": {"field": "y", "type": "quantitative", "axis": null}, "text": {"field": "t"}}
          }
        ]
      }
    ],
    "spacing": 0,
    "bounds": "flush"
  }
]
}
